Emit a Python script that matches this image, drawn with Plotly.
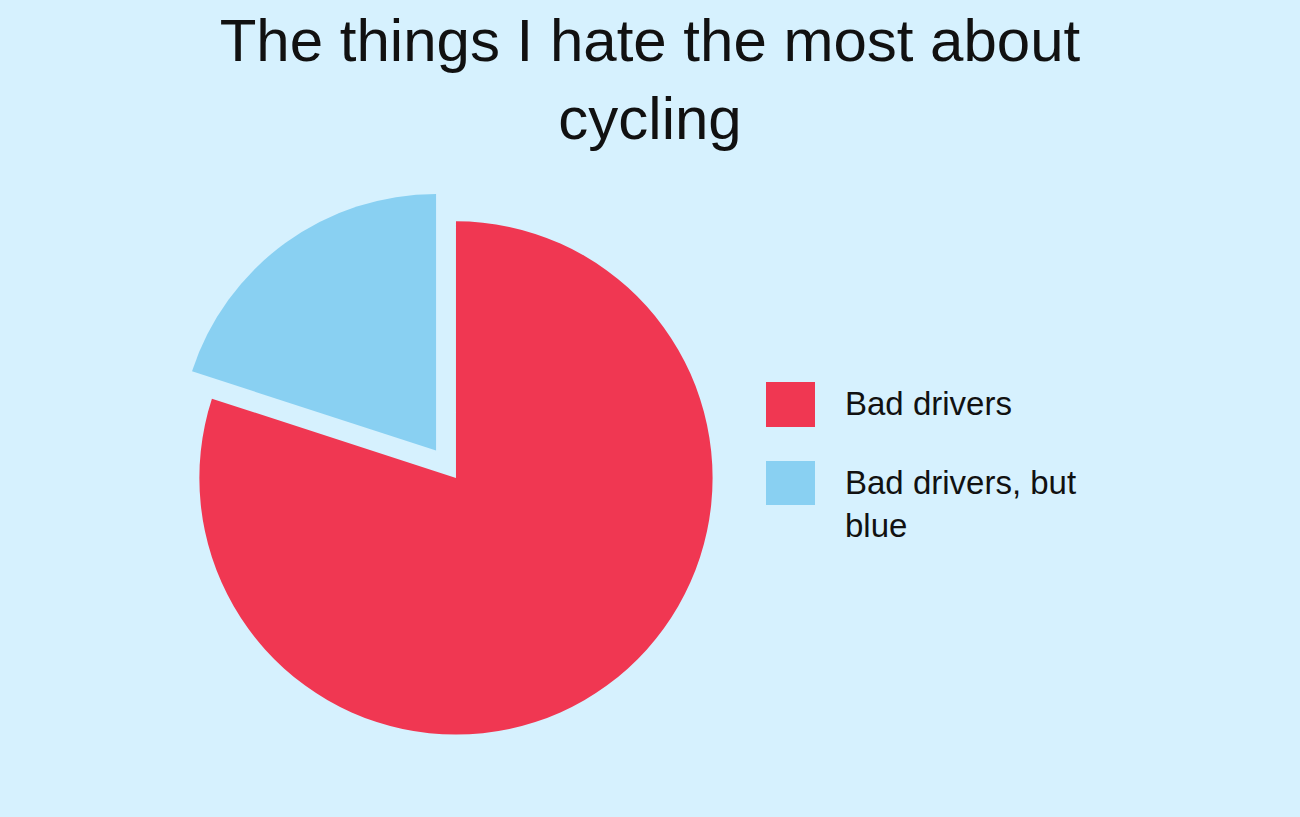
import plotly.graph_objects as go

# Datos del gráfico
labels = ["Bad drivers", "Bad drivers, but blue"]
legend_text = ["Bad drivers", "Bad drivers, but<br>blue"]
values = [80, 20]
pulls = [0, 0.132]
colors = ["#F03752", "#89D0F2"]

title_text = "The things I hate the most about<br>cycling"

W, H = 1300, 817

fig = go.Figure(go.Pie(
    labels=labels,
    values=values,
    pull=pulls,
    sort=False,
    direction="clockwise",
    rotation=0,
    textinfo="none",
    hoverinfo="label+percent",
    marker=dict(colors=colors, line=dict(width=0)),
    domain=dict(x=[0.1273, 0.5742], y=[0.0594, 0.7705]),
    showlegend=False,
))

# Leyenda dibujada a mano (cuadrados grandes como en la referencia)
sw_x0, sw_x1 = 766, 815
text_x = 843
items = [
    dict(sw_top=382, sw_bot=427, text_mid=403.5),
    dict(sw_top=461, sw_bot=505, text_mid=504),
]
for color, txt, it in zip(colors, legend_text, items):
    fig.add_shape(
        type="rect", xref="paper", yref="paper",
        x0=sw_x0 / W, x1=sw_x1 / W,
        y0=(H - it["sw_bot"]) / H, y1=(H - it["sw_top"]) / H,
        fillcolor=color, line=dict(width=0),
    )
    fig.add_annotation(
        text=txt, xref="paper", yref="paper",
        x=text_x / W, y=(H - it["text_mid"]) / H,
        xanchor="left", yanchor="middle", align="left",
        showarrow=False,
        font=dict(size=33, color="#111111"),
    )

fig.update_layout(
    width=W, height=H,
    margin=dict(l=0, r=0, t=0, b=0),
    paper_bgcolor="#D6F1FE",
    plot_bgcolor="#D6F1FE",
    font=dict(family="Liberation Sans, Arial, sans-serif", color="#111111"),
    title=dict(
        text=title_text,
        x=0.5, xanchor="center",
        y=0.925, yanchor="top",
        font=dict(size=60, color="#111111"),
    ),
)

# Quitar el margen del body para que el gráfico llene la ventana
fig.write_html(
    "out.html",
    config={"displayModeBar": False},
    post_script="document.body.style.margin='0';document.body.style.overflow='hidden';",
)
